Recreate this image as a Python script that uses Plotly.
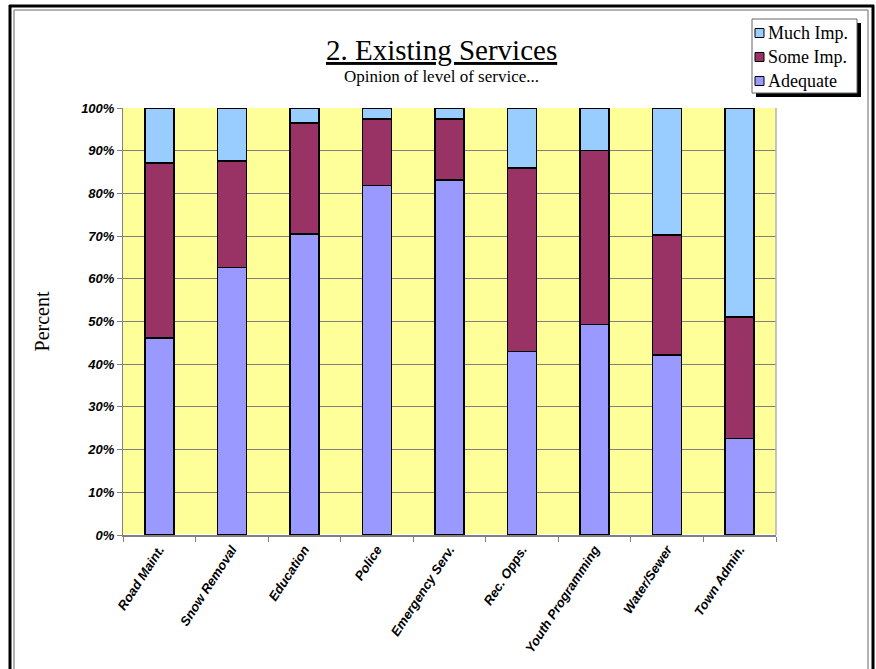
import plotly.graph_objects as go

categories = ["Road Maint.", "Snow Removal", "Education", "Police", "Emergency Serv.",
              "Rec. Opps.", "Youth Programming", "Water/Sewer", "Town Admin."]
adequate = [46.1, 62.7, 70.5, 81.8, 83.1, 43.0, 49.3, 42.2, 22.6]
some_imp = [41.0, 24.9, 26.0, 15.6, 14.3, 43.0, 40.7, 28.1, 28.5]
much_imp = [12.9, 12.4, 3.5, 2.6, 2.6, 14.0, 10.0, 29.7, 48.9]
series_names = ["Adequate", "Some Imp.", "Much Imp."]
series_colors = ["#9999FF", "#993366", "#99CCFF"]
y_ticks = [0, 10, 20, 30, 40, 50, 60, 70, 80, 90, 100]
y_ticklabels = [f"{v}%" for v in y_ticks]

W, H = 876, 669
L, R, T, B = 123, 776, 108, 535

def px(x):
    return (x - L) / (R - L)

def py(y):
    return (B - y) / (B - T)

fig = go.Figure()
for name, vals, col in zip(series_names, [adequate, some_imp, much_imp], series_colors):
    fig.add_trace(go.Bar(name=name, x=categories, y=vals, showlegend=False,
                         marker=dict(color=col, line=dict(color="black", width=1.5))))

shapes = [
    # outer frame black
    dict(type="line", xref="paper", yref="paper", x0=px(10), x1=px(10), y0=py(5), y1=py(680),
         line=dict(color="black", width=3)),
    dict(type="line", xref="paper", yref="paper", x0=px(9), x1=px(874), y0=py(6), y1=py(6),
         line=dict(color="black", width=3)),
    dict(type="line", xref="paper", yref="paper", x0=px(873), x1=px(873), y0=py(5), y1=py(680),
         line=dict(color="black", width=3)),
    # inner frame grey
    dict(type="line", xref="paper", yref="paper", x0=px(14), x1=px(14), y0=py(10), y1=py(680),
         line=dict(color="#999999", width=1.5)),
    dict(type="line", xref="paper", yref="paper", x0=px(14), x1=px(868), y0=py(10), y1=py(10),
         line=dict(color="#999999", width=1.5)),
    dict(type="line", xref="paper", yref="paper", x0=px(868), x1=px(868), y0=py(10), y1=py(680),
         line=dict(color="#999999", width=1.5)),
    # plot area right edge
    dict(type="line", xref="paper", yref="paper", x0=1, x1=1, y0=0, y1=1,
         line=dict(color="#B0B0B0", width=1.5)),
    # legend shadow and box
    dict(type="rect", xref="paper", yref="paper", x0=px(756), x1=px(861), y0=py(23), y1=py(97),
         fillcolor="black", line=dict(width=0)),
    dict(type="rect", xref="paper", yref="paper", x0=px(752), x1=px(857), y0=py(19), y1=py(93),
         fillcolor="white", line=dict(color="#666666", width=1)),
]

annotations = [
    dict(text="<u>2. Existing Services</u>", xref="paper", yref="paper",
         x=px(441), y=py(50), xanchor="center", yanchor="middle", showarrow=False,
         font=dict(family="Liberation Serif", size=29, color="black")),
    dict(text="Opinion of level of service...", xref="paper", yref="paper",
         x=px(441), y=py(77), xanchor="center", yanchor="middle", showarrow=False,
         font=dict(family="Liberation Serif", size=17, color="black")),
]

# manual legend entries (top to bottom: Much Imp., Some Imp., Adequate)
legend_rows = [33, 57, 81]
for yrow, name, col in zip(legend_rows, series_names[::-1], series_colors[::-1]):
    shapes.append(dict(type="rect", xref="paper", yref="paper",
                       x0=px(755), x1=px(764), y0=py(yrow - 4.5), y1=py(yrow + 4.5),
                       fillcolor=col, line=dict(color="black", width=1)))
    annotations.append(dict(text=name, xref="paper", yref="paper",
                            x=px(766), y=py(yrow), xanchor="left", yanchor="middle",
                            showarrow=False,
                            font=dict(family="Liberation Serif", size=18, color="black")))

fig.update_layout(
    width=W, height=H,
    barmode="stack",
    bargap=0.6,
    paper_bgcolor="white",
    plot_bgcolor="#FFFF99",
    margin=dict(l=L, r=W - R, t=T, b=H - B, autoexpand=False),
    shapes=shapes,
    annotations=annotations,
    showlegend=False,
    xaxis=dict(showline=True, linecolor="#808080", linewidth=1.5,
               ticks="outside", tickson="boundaries", ticklen=5, tickcolor="#808080",
               tickangle=-57,
               tickfont=dict(family="Liberation Sans", size=13, color="black",
                             weight="bold", style="italic"),
               showgrid=False),
    yaxis=dict(range=[0, 100], tickvals=y_ticks, ticktext=y_ticklabels,
               showline=True, linecolor="#808080", linewidth=1,
               ticks="outside", ticklen=5, tickcolor="#808080",
               gridcolor="#808080", gridwidth=1,
               tickfont=dict(family="Liberation Sans", size=13, color="black",
                             weight="bold", style="italic"),
               title=dict(text="Percent", standoff=26,
                          font=dict(family="Liberation Serif", size=20, color="black"))),
)

fig.write_html("out.html")
